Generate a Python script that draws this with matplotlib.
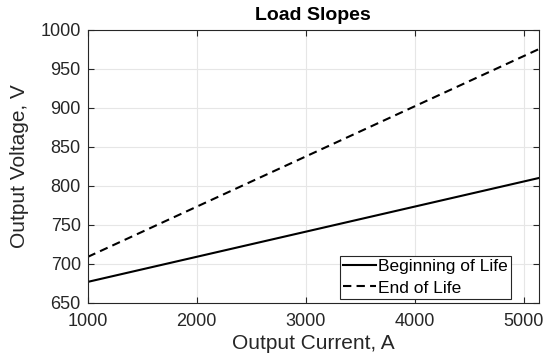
import matplotlib.pyplot as plt

# load slope end points (current A, voltage V)
current = [1000, 5140]
bol_voltage = [677, 810]
eol_voltage = [709, 975]

plt.rcParams['font.family'] = ['Liberation Sans', 'DejaVu Sans']

fig = plt.figure(figsize=(5.5, 3.62), dpi=100)
ax = fig.add_axes([0.1595, 0.163, 0.8205, 0.7555])

ax.plot(current, bol_voltage, color='black', linewidth=1.5, linestyle='-', label='Beginning of Life')
ax.plot(current, eol_voltage, color='black', linewidth=1.5, linestyle=(0, (4, 2.5)), label='End of Life')

ax.set_xlim(1000, 5140)
ax.set_ylim(650, 1000)
ax.set_xticks([1000, 2000, 3000, 4000, 5000])
ax.set_yticks(range(650, 1001, 50))
ax.grid(True, color='#e6e6e6', linewidth=0.8)
ax.set_axisbelow(True)
ax.tick_params(direction='in', top=True, right=True, labelsize=13, colors='#262626', length=4)
ax.tick_params(axis='x', pad=7)
ax.tick_params(axis='y', pad=5)
for s in ax.spines.values():
    s.set_color('#262626')
    s.set_linewidth(0.8)

ax.set_xlabel('Output Current, A', fontsize=15, color='#262626', labelpad=3)
ax.set_ylabel('Output Voltage, V', fontsize=15, color='#262626', labelpad=8)
ax.set_title('Load Slopes', fontsize=14, fontweight='bold', pad=7)

leg = ax.legend(loc='lower right', bbox_to_anchor=(0.938, 0.0146), fontsize=12.5,
                fancybox=False, framealpha=1, edgecolor='#262626', handlelength=1.9,
                handletextpad=0.1, borderaxespad=0, borderpad=0.2, labelspacing=0.35)
leg.get_frame().set_linewidth(0.8)

fig.savefig('out.png', dpi=100)
